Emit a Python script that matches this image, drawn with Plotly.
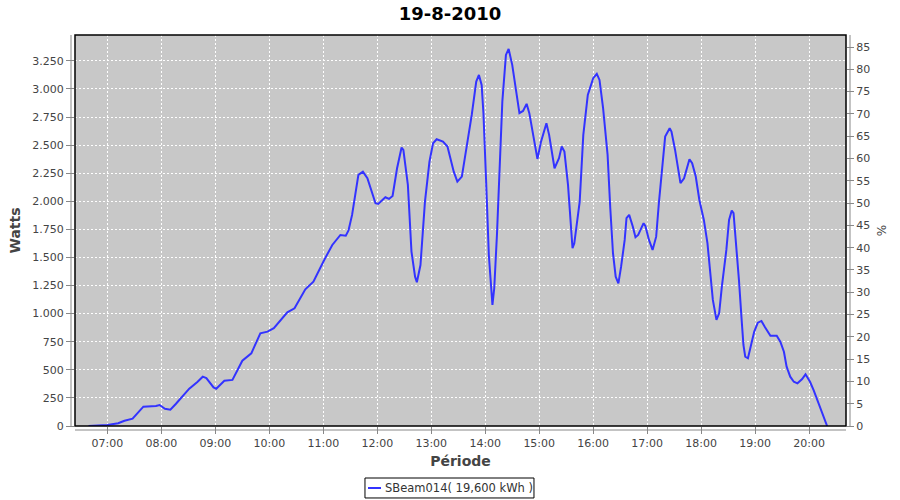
import plotly.graph_objects as go

# ---- data ----
times = [
    "06:39", "07:00", "07:12", "07:19", "07:28", "07:34", "07:40", "07:54", "07:58", "08:04",
    "08:10", "08:16", "08:23", "08:31", "08:40", "08:46", "08:50", "08:58", "09:01", "09:10",
    "09:19", "09:30", "09:40", "09:50", "09:58", "10:05", "10:20", "10:28", "10:40", "10:49",
    "11:01", "11:10", "11:19", "11:25", "11:28", "11:32", "11:39", "11:44", "11:49", "11:58",
    "12:01", "12:09", "12:13", "12:17", "12:22", "12:27", "12:29", "12:34", "12:38", "12:42",
    "12:44", "12:48", "12:53", "12:58", "13:02", "13:06", "13:13", "13:18", "13:25", "13:29",
    "13:34", "13:39", "13:45", "13:50", "13:53", "13:56", "13:58", "14:01", "14:04", "14:08",
    "14:10", "14:13", "14:16", "14:19", "14:23", "14:26", "14:30", "14:35", "14:38", "14:42",
    "14:46", "14:49", "14:55", "14:58", "15:02", "15:08", "15:11", "15:17", "15:22", "15:25",
    "15:28", "15:32", "15:37", "15:39", "15:45", "15:49", "15:54", "16:00", "16:04", "16:07",
    "16:11", "16:16", "16:19", "16:22", "16:25", "16:28", "16:31", "16:35", "16:37", "16:40",
    "16:44", "16:47", "16:50", "16:56", "16:58", "17:02", "17:06", "17:10", "17:13", "17:17",
    "17:20", "17:25", "17:27", "17:31", "17:35", "17:37", "17:41", "17:47", "17:50", "17:54",
    "17:58", "18:03", "18:07", "18:10", "18:13", "18:17", "18:20", "18:23", "18:28", "18:31",
    "18:34", "18:36", "18:39", "18:42", "18:45", "18:47", "18:49", "18:52", "18:55", "18:59",
    "19:03", "19:07", "19:11", "19:17", "19:24", "19:28", "19:32", "19:35", "19:39", "19:43",
    "19:47", "19:52", "19:56", "20:01", "20:05", "20:10", "20:14", "20:20",
]
watts = [
    0, 9, 24, 47, 65, 118, 172, 178, 187, 154,
    145, 196, 258, 332, 392, 439, 427, 344, 332, 403,
    410, 581, 647, 825, 840, 870, 1012, 1048, 1217, 1285,
    1478, 1611, 1700, 1694, 1740, 1879, 2235, 2264, 2205, 1983,
    1977, 2036, 2021, 2048, 2294, 2478, 2457, 2146, 1552, 1329,
    1279, 1433, 1997, 2353, 2517, 2552, 2531, 2487, 2264, 2175,
    2220, 2472, 2769, 3065, 3125, 3036, 2784, 2175, 1522, 1077,
    1226, 1700, 2294, 2887, 3303, 3356, 3214, 2917, 2784, 2804,
    2867, 2784, 2502, 2377, 2531, 2695, 2591, 2294, 2383, 2487,
    2442, 2146, 1582, 1627, 1997, 2591, 2947, 3096, 3134, 3080,
    2829, 2413, 1938, 1538, 1329, 1270, 1418, 1656, 1849, 1879,
    1775, 1680, 1700, 1805, 1781, 1656, 1567, 1685, 1983, 2309,
    2576, 2650, 2620, 2457, 2279, 2161, 2205, 2374, 2339, 2220,
    2012, 1834, 1627, 1359, 1122, 944, 1003, 1240, 1567, 1834,
    1917, 1894, 1627, 1300, 944, 721, 617, 603, 706, 840,
    920, 935, 879, 804, 804, 751, 661, 528, 439, 394,
    380, 416, 460, 394, 320, 216, 127, 0,
]
date = "2010-08-19"
series_name = "SBeam014( 19,600 kWh )"
title_text = "19-8-2010"
x_labels = ["07:00", "08:00", "09:00", "10:00", "11:00", "12:00", "13:00",
            "14:00", "15:00", "16:00", "17:00", "18:00", "19:00", "20:00"]
watt_ticks = list(range(0, 3251, 250))
watt_labels = ["0", "250", "500", "750", "1.000", "1.250", "1.500", "1.750",
               "2.000", "2.250", "2.500", "2.750", "3.000", "3.250"]
pct_ticks = list(range(0, 86, 5))

xs = [f"{date} {t}" for t in times]

LINE_COLOR = "#3333ff"
TICK_FONT = dict(family="DejaVu Sans", size=11, color="#444444")
TITLE_FONT = dict(family="DejaVu Sans", size=14, color="#444444")

fig = go.Figure()
fig.add_trace(go.Scatter(
    x=xs, y=watts, mode="lines", name=series_name,
    line=dict(color=LINE_COLOR, width=2), yaxis="y", showlegend=False,
))
# invisible trace to activate the right axis
fig.add_trace(go.Scatter(
    x=[xs[0]], y=[0], mode="markers", yaxis="y2", showlegend=False,
    marker=dict(opacity=0), hoverinfo="skip",
))

fig.update_layout(
    width=900, height=500,
    margin=dict(l=75, r=54, t=35, b=74, autoexpand=False),
    paper_bgcolor="white",
    plot_bgcolor="#c8c8c8",
    showlegend=False,
    title=dict(text=f"<b>{title_text}</b>", x=0.5, xref="container", xanchor="center",
               y=0.972, yref="container", yanchor="middle",
               font=dict(family="DejaVu Sans", size=18, color="black")),
    xaxis=dict(
        type="date",
        range=[f"{date} 06:24", f"{date} 20:41"],
        tickvals=[f"{date} {t}" for t in x_labels], ticktext=x_labels,
        showgrid=True, gridcolor="white", griddash="2px,2px", gridwidth=1,
        ticks="outside", ticklen=7, tickcolor="#888888",
        tickfont=TICK_FONT, automargin=False,
        title=dict(text="<b>Période</b>", font=TITLE_FONT, standoff=6),
        zeroline=False, showline=False,
    ),
    yaxis=dict(
        range=[0, 3480],
        tickvals=watt_ticks, ticktext=watt_labels,
        showgrid=True, gridcolor="white", griddash="2px,2px", gridwidth=1,
        ticks="outside", ticklen=8, tickcolor="#888888",
        tickfont=TICK_FONT, automargin=False,
        title=dict(text="<b>Watts</b>", font=TITLE_FONT, standoff=8),
        zeroline=False, showline=False,
    ),
    yaxis2=dict(
        overlaying="y", side="right",
        range=[0, 87.7],
        tickvals=pct_ticks,
        showgrid=False, zeroline=False, showline=False,
        ticks="outside", ticklen=7, tickcolor="#888888",
        tickfont=TICK_FONT, automargin=False,
        title=dict(text="%", font=dict(family="DejaVu Sans", size=12, color="#444444"), standoff=8),
    ),
)

# plot frame and offset axis lines
fig.add_shape(type="rect", xref="paper", yref="paper", x0=0, y0=0, x1=1, y1=1,
              line=dict(color="black", width=1.5), fillcolor="rgba(0,0,0,0)", layer="above")
fig.add_shape(type="line", xref="paper", yref="paper", x0=-4/771, x1=-4/771, y0=0, y1=1,
              line=dict(color="#888888", width=1))
fig.add_shape(type="line", xref="paper", yref="paper", x0=1+4/771, x1=1+4/771, y0=0, y1=1,
              line=dict(color="#888888", width=1))
fig.add_shape(type="line", xref="paper", yref="paper", x0=0, x1=1, y0=-4/391, y1=-4/391,
              line=dict(color="#888888", width=1))

# compact legend box below the axis title (JFreeChart style)
fig.add_shape(type="rect", xref="paper", yref="paper",
              x0=0.3761, x1=0.5953, y0=-0.1841, y1=-0.1330,
              line=dict(color="black", width=1), fillcolor="white")
fig.add_shape(type="line", xref="paper", yref="paper",
              x0=0.3800, x1=0.3969, y0=-0.1586, y1=-0.1586,
              line=dict(color=LINE_COLOR, width=2))
fig.add_annotation(text=series_name, xref="paper", yref="paper",
                   x=0.3995, y=-0.1586, xanchor="left", yanchor="middle",
                   showarrow=False,
                   font=dict(family="DejaVu Sans", size=11.5, color="#333333"))

# remove the default page margin so the 900x500 figure fills the window exactly
fig.write_html("out.html", config={"displayModeBar": False},
               post_script="document.body.style.margin='0';")
